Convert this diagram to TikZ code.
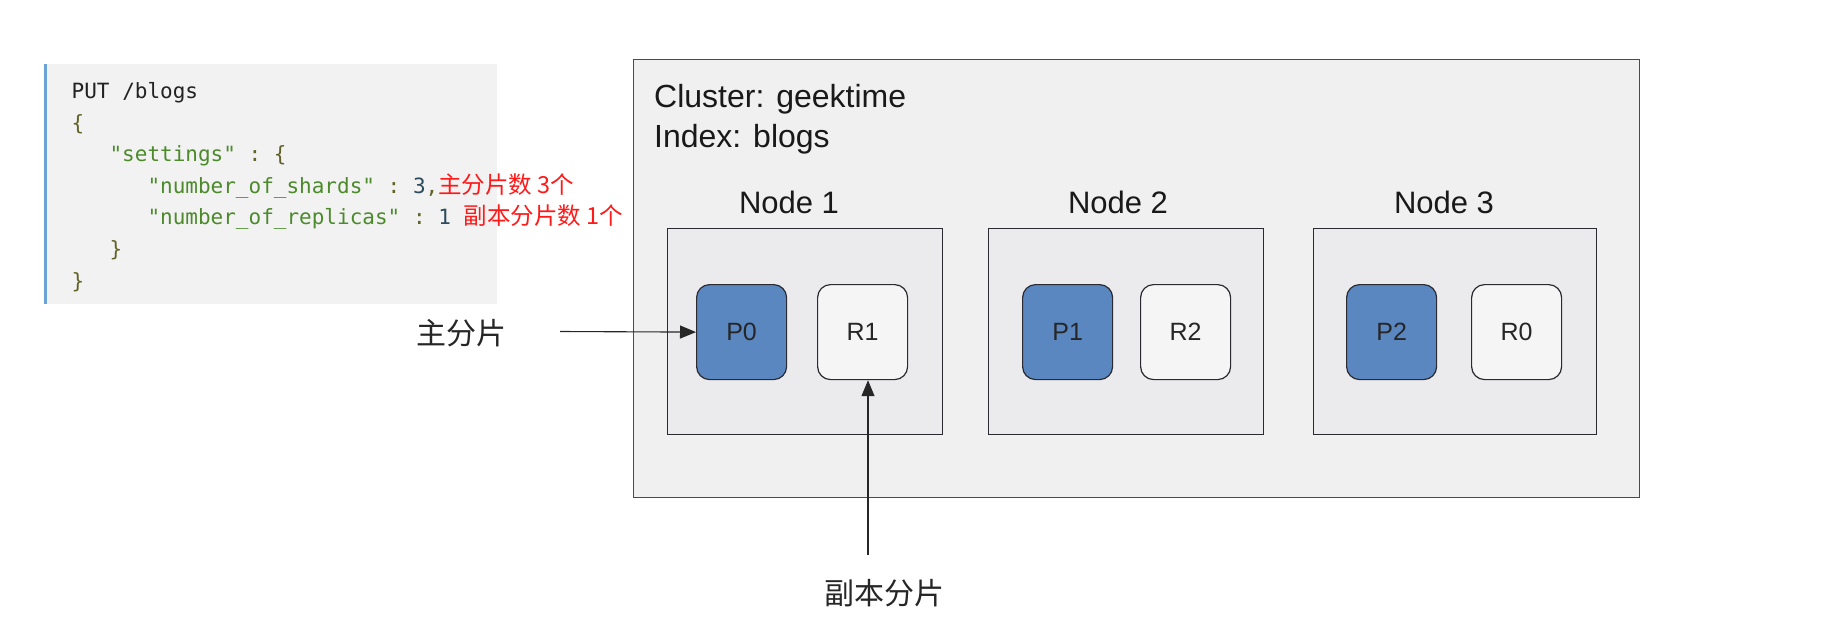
\documentclass[tikz,border=0pt]{standalone}
\usepackage{fontspec}
\setmainfont{Liberation Sans}
\newfontfamily\codefont{DejaVu Sans Mono}
\newfontfamily\cjk{Noto Sans CJK SC}
\usetikzlibrary{arrows.meta}
\definecolor{clusterfill}{HTML}{F0F0F0}
\definecolor{nodefill}{HTML}{EBEBED}
\definecolor{codebg}{HTML}{F2F2F2}
\definecolor{codebar}{HTML}{6AA3D5}
\definecolor{pfill}{HTML}{5B87C1}
\definecolor{rfill}{HTML}{F5F5F5}
\definecolor{edge}{HTML}{2A2A30}
\definecolor{cstr}{HTML}{4C8A2C}
\definecolor{cpun}{HTML}{626228}
\definecolor{cnum}{HTML}{2B4C5C}
\definecolor{cplain}{HTML}{222222}
\definecolor{anno}{HTML}{FF1A1A}
\newcommand{\annot}[1]{{\cjk\fontsize{23.5}{28}\selectfont\color{anno}#1}}
\tikzset{
  box/.style={draw=edge, line width=1.2pt, inner sep=0pt, anchor=north west},
  clusterbox/.style={box, fill=clusterfill, draw=edge!85, minimum width=1006pt, minimum height=438pt},
  esnode/.style={box, fill=nodefill, minimum height=206pt},
  shard/.style={draw=edge, line width=1.2pt, rounded corners=13pt, minimum width=90pt, minimum height=95pt, inner sep=0pt, anchor=north west, font=\fontsize{25}{30}\selectfont, text=black!85},
  primary/.style={shard, fill=pfill},
  replica/.style={shard, fill=rfill},
  title/.style={font=\fontsize{31}{36}\selectfont, text=black!90, inner sep=0pt},
  ctitle/.style={font=\fontsize{32}{37}\selectfont, text=black!90, inner sep=0pt, anchor=base west},
  codeline/.style={font=\codefont\fontsize{21}{25}\selectfont, anchor=base west, inner sep=0pt, text=cplain},
  cn/.style={font=\cjk\fontsize{30}{36}\selectfont, text=black!85, inner sep=0pt},
  arr/.style={-{Triangle[length=16pt,width=13pt]}, line width=1.1pt, draw=black!85}
}
\begin{document}
\begin{tikzpicture}[x=1pt,y=-1pt]
\useasboundingbox[fill=white] (0,0) rectangle (1838,627);
% code block
\node[inner sep=0pt, anchor=north west, fill=codebg, minimum width=453pt, minimum height=240pt] (code) at (44,64) {};
\node[inner sep=0pt, anchor=north west, fill=codebar, minimum width=3pt, minimum height=240pt] (bar) at (code.north west) {};
\node[codeline] (l1) at (71.5,98) {PUT /blogs};
\node[codeline] (l2) at (71.5,130) {\textcolor{cpun}{\{}};
\node[codeline] (l3) at (109.4,161) {\textcolor{cstr}{"settings"}\textcolor{cpun}{\ :\ \{}};
\node[codeline] (l4) at (147.3,193) {\textcolor{cstr}{"number\_of\_shards"}\textcolor{cpun}{\ :\ }\textcolor{cnum}{3}\textcolor{cpun}{,}\annot{主分片数 3个}};
\node[codeline] (l5) at (147.3,224.5) {\textcolor{cstr}{"number\_of\_replicas"}\textcolor{cpun}{\ :\ }\textcolor{cnum}{1}\ \annot{副本分片数 1个}};
\node[codeline] (l6) at (109.4,256.5) {\textcolor{cpun}{\}}};
\node[codeline] (l7) at (71.5,288) {\textcolor{cpun}{\}}};
% cluster
\node[clusterbox] (cluster) at (633,59) {};
\node[ctitle] (ctitle) at (654,107) {Cluster: geektime};
\node[ctitle] (ititle) at (654,147) {Index: blogs};
% nodes
\node[esnode, minimum width=275pt] (n1) at (667,228) {};
\node[esnode, minimum width=275pt] (n2) at (988,228) {};
\node[esnode, minimum width=283pt] (n3) at (1313,228) {};
\node[title, anchor=base] (n1t) at (789,213) {Node 1};
\node[title, anchor=base] (n2t) at (1118,213) {Node 2};
\node[title, anchor=base] (n3t) at (1444,213) {Node 3};
% shards
\node[primary] (P0) at (696,284) {P0};
\node[replica] (R1) at (817,284) {R1};
\node[primary] (P1) at (1022,284) {P1};
\node[replica] (R2) at (1140,284) {R2};
\node[primary] (P2) at (1346,284) {P2};
\node[replica] (R0) at (1471,284) {R0};
% annotations
\node[cn] (plabel) at (461,333) {主分片};
\node[cn] (rlabel) at (884,593) {副本分片};
\coordinate (pa) at (560,331.5);
\coordinate (ra) at (868,555);
\draw[arr] (pa) -- (P0.west);
\draw[arr] (ra) -- (ra |- R1.south);
\end{tikzpicture}
\end{document}
